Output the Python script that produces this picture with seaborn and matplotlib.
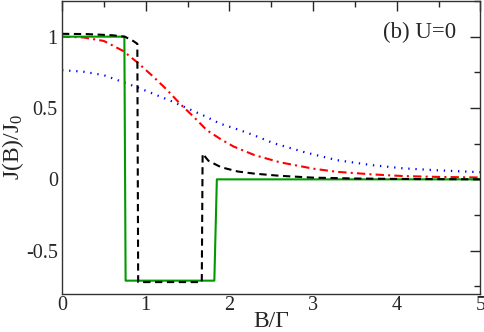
import numpy as np
import pandas as pd
import matplotlib
matplotlib.use("Agg")
import matplotlib.pyplot as plt
import seaborn as sns
from matplotlib.ticker import MultipleLocator

# ---- data ----
green_x = [0.0, 0.745, 0.76, 1.82, 1.85, 5.0]
green_y = [1.0, 1.0, -0.71, -0.71, 0.0, 0.0]

black_x = [0.0, 0.3, 0.6, 0.75, 0.85, 0.9, 0.91, 1.67, 1.68, 1.75, 1.9, 2.1, 2.3, 2.6, 3.0, 3.5, 4.0, 5.0]
black_y = [1.02, 1.018, 1.01, 1.0, 0.97, 0.95, -0.72, -0.72, 0.18, 0.13, 0.085, 0.055, 0.04, 0.025, 0.012, 0.006, 0.003, 0.0]

red_x = [0.0, 0.25, 0.5, 0.73, 0.9, 1.09, 1.25, 1.41, 1.57, 1.73, 1.9, 2.05, 2.3, 2.6, 3.0, 3.28, 3.7, 4.08, 4.5, 5.0]
red_y = [1.0, 0.995, 0.97, 0.90, 0.82, 0.72, 0.63, 0.53, 0.44, 0.345, 0.28, 0.23, 0.17, 0.12, 0.075, 0.053, 0.035, 0.023, 0.017, 0.013]

blue_x = [0.0, 0.25, 0.5, 0.69, 0.9, 1.09, 1.3, 1.49, 1.7, 1.89, 2.1, 2.29, 2.52, 2.9, 3.28, 3.7, 4.08, 4.5, 5.0]
blue_y = [0.765, 0.755, 0.73, 0.69, 0.645, 0.60, 0.55, 0.50, 0.445, 0.39, 0.35, 0.31, 0.255, 0.19, 0.135, 0.10, 0.077, 0.063, 0.05]

xticks = [0, 1, 2, 3, 4, 5]
yticks = [-0.5, 0, 0.5, 1]
ytick_labels = ["-0.5", "0", "0.5", "1"]

sns.set_style("white")
plt.rcParams['font.family'] = ['Liberation Serif', 'DejaVu Serif']
plt.rcParams['mathtext.fontset'] = 'custom'
plt.rcParams['mathtext.rm'] = 'Liberation Serif'
plt.rcParams['mathtext.it'] = 'Liberation Serif'

fig = plt.figure(figsize=(4.85, 3.32), dpi=100)
ax = fig.add_axes([62/485, (332-293.5)/332, (480.5-62)/485, (292.5)/332])

def draw(x, y, **kw):
    df = pd.DataFrame({"x": x, "y": y})
    sns.lineplot(data=df, x="x", y="y", ax=ax, sort=False, estimator=None, **kw)

draw(blue_x, blue_y, color="#0000ff", lw=1.6, linestyle=(0, (0.6, 2.6)))
draw(red_x, red_y, color="#ff0000", lw=1.5, linestyle=(0, (4, 2, 1, 2)))
draw(green_x, green_y, color="#009900", lw=1.5, linestyle="-")
draw(black_x, black_y, color="#000000", lw=1.5, linestyle=(0, (3.5, 2.2)))

ax.set_xlim(0, 5)
ax.set_ylim(-0.8, 1.25)
ax.set_xticks(xticks)
ax.set_xticklabels([str(t) for t in xticks])
ax.set_yticks(yticks)
ax.set_yticklabels(ytick_labels)
ax.xaxis.set_minor_locator(MultipleLocator(0.5))
ax.yaxis.set_minor_locator(MultipleLocator(0.25))
ax.tick_params(which='both', direction='in', top=True, right=True, labelsize=14.5, width=1)
ax.tick_params(axis='x', pad=2)
ax.tick_params(axis='y', pad=3)
ax.tick_params(which='major', length=7)
ax.tick_params(which='minor', length=4)
for s in ax.spines.values():
    s.set_linewidth(1.0)
    s.set_color("#333333")

ax.set_xlabel("B/Γ", fontsize=17, labelpad=-3)
ax.set_ylabel(r"J(B)/J$_0$", fontsize=17, labelpad=0)
ax.text(0.768, 0.872, "(b) U=0", transform=ax.transAxes, fontsize=16.5)

fig.savefig("out.png", dpi=100)
